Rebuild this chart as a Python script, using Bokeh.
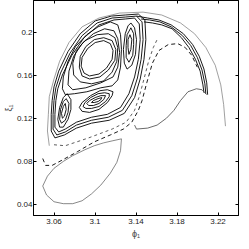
from bokeh.plotting import figure
from bokeh.models import (LinearAxis, FixedTicker, Range1d, CustomJSTickFormatter,
                          CustomLabelingPolicy)
from bokeh.embed import file_html
from bokeh.resources import INLINE

x_ticks = [3.06, 3.1, 3.14, 3.18, 3.22]
y_ticks = [0.04, 0.08, 0.12, 0.16, 0.2]
x_label = "ϕ₁"
y_label = "ξ₁"

# ---- central island rings (closed) ----
big_r1_x = [3.1149, 3.1176, 3.1167, 3.1112, 3.1039, 3.0947, 3.0893, 3.0865, 3.0874, 3.0929, 3.1002, 3.1085]
big_r1_y = [0.1899, 0.1835, 0.1753, 0.1671, 0.1616, 0.1598, 0.1625, 0.1689, 0.1771, 0.1854, 0.1909, 0.1927]
big_r2_x = [3.1167, 3.1203, 3.1194, 3.1130, 3.1048, 3.0947, 3.0874, 3.0847, 3.0856, 3.0911, 3.0993, 3.1085]
big_r2_y = [0.1927, 0.1845, 0.1744, 0.1653, 0.1589, 0.1570, 0.1598, 0.1680, 0.1781, 0.1872, 0.1936, 0.1954]
big_r3_x = [3.1194, 3.1222, 3.1213, 3.1167, 3.1085, 3.0966, 3.0856, 3.0792, 3.0783, 3.0819, 3.0902, 3.1021, 3.1130]
big_r3_y = [0.1954, 0.1863, 0.1735, 0.1634, 0.1552, 0.1525, 0.1543, 0.1607, 0.1717, 0.1835, 0.1927, 0.1982, 0.1991]
big_r4_x = [3.1185, 3.1222, 3.1240, 3.1222, 3.1176, 3.1057, 3.0911, 3.0783, 3.0737, 3.0746, 3.0792, 3.0874, 3.0984, 3.1094]
big_r4_y = [0.2018, 0.1945, 0.1817, 0.1680, 0.1589, 0.1534, 0.1488, 0.1470, 0.1515, 0.1643, 0.1781, 0.1899, 0.1991, 0.2037]
big_r5_x = [3.1149, 3.1222, 3.1249, 3.1258, 3.1249, 3.1222, 3.1167, 3.1057, 3.0920, 3.0801, 3.0710, 3.0682, 3.0691, 3.0737, 3.0810, 3.0920, 3.1030]
big_r5_y = [0.2101, 0.2073, 0.1982, 0.1845, 0.1680, 0.1561, 0.1506, 0.1488, 0.1451, 0.1433, 0.1424, 0.1479, 0.1589, 0.1735, 0.1872, 0.1982, 0.2055]

# ---- lower satellite island ----
low_r4_x = [3.1176, 3.1121, 3.1048, 3.0957, 3.0874, 3.0847, 3.0874, 3.0947, 3.1039, 3.1121, 3.1167]
low_r4_y = [0.1451, 0.1470, 0.1461, 0.1415, 0.1351, 0.1305, 0.1269, 0.1259, 0.1287, 0.1351, 0.1415]
low_r3_x = [3.1139, 3.1094, 3.1030, 3.0957, 3.0902, 3.0883, 3.0911, 3.0966, 3.1039, 3.1103, 3.1139]
low_r3_y = [0.1433, 0.1442, 0.1433, 0.1397, 0.1351, 0.1314, 0.1296, 0.1296, 0.1314, 0.1360, 0.1406]
low_r2_x = [3.1103, 3.1057, 3.1002, 3.0947, 3.0920, 3.0938, 3.0984, 3.1039, 3.1085]
low_r2_y = [0.1415, 0.1415, 0.1397, 0.1369, 0.1342, 0.1323, 0.1323, 0.1342, 0.1378]
low_r1_x = [3.1066, 3.1030, 3.0984, 3.0966, 3.0993, 3.1030, 3.1057]
low_r1_y = [0.1397, 0.1387, 0.1369, 0.1351, 0.1351, 0.1360, 0.1378]

# ---- left satellite island ----
left_r3_x = [3.0728, 3.0765, 3.0765, 3.0737, 3.0691, 3.0655, 3.0637, 3.0655, 3.0691]
left_r3_y = [0.1433, 0.1378, 0.1287, 0.1195, 0.1122, 0.1122, 0.1195, 0.1305, 0.1397]
left_r2_x = [3.0719, 3.0746, 3.0737, 3.0710, 3.0673, 3.0655, 3.0664, 3.0691]
left_r2_y = [0.1387, 0.1342, 0.1259, 0.1186, 0.1159, 0.1195, 0.1287, 0.1360]
left_r1_x = [3.0710, 3.0719, 3.0701, 3.0682, 3.0673, 3.0691]
left_r1_y = [0.1342, 0.1287, 0.1223, 0.1205, 0.1250, 0.1314]

# ---- right satellite island ----
right_r3_x = [3.1350, 3.1386, 3.1405, 3.1395, 3.1359, 3.1313, 3.1286, 3.1277, 3.1295, 3.1322]
right_r3_y = [0.2091, 0.2046, 0.1936, 0.1799, 0.1698, 0.1662, 0.1717, 0.1845, 0.1991, 0.2064]
right_r2_x = [3.1350, 3.1377, 3.1377, 3.1368, 3.1331, 3.1304, 3.1304, 3.1313]
right_r2_y = [0.2046, 0.1991, 0.1890, 0.1790, 0.1726, 0.1771, 0.1881, 0.1982]
right_r1_x = [3.1341, 3.1359, 3.1350, 3.1331, 3.1322, 3.1322]
right_r1_y = [0.1982, 0.1936, 0.1845, 0.1799, 0.1863, 0.1936]

# ---- enclosing band (closed) ----
band_e0_x = [3.1295, 3.1386, 3.1432, 3.1441, 3.1423, 3.1386, 3.1331, 3.1249, 3.1121, 3.0966, 3.0819, 3.0710, 3.0646, 3.0609, 3.0609, 3.0618, 3.0637, 3.0682, 3.0774, 3.0893, 3.1039, 3.1185]
band_e0_y = [0.2128, 0.2137, 0.2082, 0.1936, 0.1753, 0.1589, 0.1433, 0.1305, 0.1241, 0.1214, 0.1168, 0.1104, 0.1077, 0.1122, 0.1241, 0.1369, 0.1479, 0.1607, 0.1790, 0.1954, 0.2073, 0.2119]
band_e1_x = [3.1295, 3.1405, 3.1459, 3.1469, 3.1450, 3.1414, 3.1359, 3.1267, 3.1130, 3.0966, 3.0819, 3.0710, 3.0627, 3.0591, 3.0591, 3.0600, 3.0618, 3.0664, 3.0755, 3.0874, 3.1021, 3.1167]
band_e1_y = [0.2146, 0.2155, 0.2101, 0.1936, 0.1753, 0.1579, 0.1415, 0.1278, 0.1214, 0.1186, 0.1141, 0.1077, 0.1049, 0.1104, 0.1241, 0.1369, 0.1488, 0.1625, 0.1808, 0.1973, 0.2091, 0.2137]
band_e2_x = [3.1295, 3.1423, 3.1487, 3.1496, 3.1478, 3.1441, 3.1386, 3.1286, 3.1139, 3.0966, 3.0819, 3.0701, 3.0609, 3.0573, 3.0573, 3.0582, 3.0600, 3.0646, 3.0737, 3.0856, 3.1002, 3.1158]
band_e2_y = [0.2165, 0.2174, 0.2119, 0.1936, 0.1753, 0.1570, 0.1397, 0.1250, 0.1186, 0.1159, 0.1113, 0.1049, 0.1022, 0.1086, 0.1241, 0.1369, 0.1497, 0.1643, 0.1826, 0.1991, 0.2110, 0.2155]

# ---- right arch bundle (open) ----
arch_a1_x = [3.1405, 3.1514, 3.1624, 3.1743, 3.1862, 3.1953, 3.2017, 3.2063, 3.2090, 3.2099]
arch_a1_y = [0.2155, 0.2137, 0.2119, 0.2073, 0.1991, 0.1890, 0.1781, 0.1662, 0.1534, 0.1424]
arch_a2_x = [3.1450, 3.1533, 3.1633, 3.1743, 3.1853, 3.1934, 3.1998, 3.2044, 3.2072, 3.2081]
arch_a2_y = [0.2128, 0.2119, 0.2101, 0.2055, 0.1973, 0.1881, 0.1771, 0.1653, 0.1525, 0.1433]
arch_a3_x = [3.1478, 3.1560, 3.1651, 3.1752, 3.1843, 3.1916, 3.1980, 3.2026, 3.2053, 3.2063]
arch_a3_y = [0.2101, 0.2091, 0.2073, 0.2037, 0.1954, 0.1863, 0.1753, 0.1643, 0.1515, 0.1442]

# ---- outermost thin curve ----
outer_x = [3.0554, 3.0536, 3.0545, 3.0554, 3.0600, 3.0655, 3.0746, 3.0874, 3.1039, 3.1240, 3.1469, 3.1651, 3.1834, 3.1971, 3.2081, 3.2173, 3.2227, 3.2255, 3.2273]
outer_y = [0.0949, 0.1086, 0.1241, 0.1406, 0.1570, 0.1735, 0.1909, 0.2055, 0.2137, 0.2183, 0.2192, 0.2165, 0.2091, 0.1991, 0.1863, 0.1698, 0.1515, 0.1333, 0.1131]

# ---- dashed orbits ----
dash_d1_x = [3.0490, 3.0518, 3.0582, 3.0691, 3.0829, 3.0993, 3.1149, 3.1277, 3.1359, 3.1423, 3.1459, 3.1505, 3.1560, 3.1624, 3.1715, 3.1807, 3.1880, 3.1944, 3.1998]
dash_d1_y = [0.0830, 0.0766, 0.0766, 0.0821, 0.0894, 0.0985, 0.1049, 0.1104, 0.1168, 0.1278, 0.1369, 0.1534, 0.1717, 0.1835, 0.1890, 0.1899, 0.1863, 0.1790, 0.1680]
dash_d2_x = [3.0600, 3.0710, 3.0938, 3.1167, 3.1304, 3.1386, 3.1432, 3.1478, 3.1523, 3.1569, 3.1606]
dash_d2_y = [0.0958, 0.0949, 0.1022, 0.1104, 0.1168, 0.1278, 0.1406, 0.1570, 0.1735, 0.1863, 0.1936]

# ---- lower arc and lower loop ----
arc_b_x = [3.1386, 3.1405, 3.1514, 3.1606, 3.1697, 3.1770, 3.1834, 3.1907, 3.1989, 3.2044, 3.2090]
arc_b_y = [0.1141, 0.1104, 0.1113, 0.1141, 0.1205, 0.1278, 0.1369, 0.1451, 0.1479, 0.1470, 0.1424]
loop_x = [3.1258, 3.1167, 3.1085, 3.0993, 3.0902, 3.0783, 3.0691, 3.0600, 3.0536, 3.0490, 3.0527, 3.0600, 3.0691, 3.0783, 3.0874, 3.0966, 3.1057, 3.1149, 3.1213, 3.1249, 3.1258]
loop_y = [0.1013, 0.0994, 0.0976, 0.0949, 0.0912, 0.0857, 0.0803, 0.0739, 0.0666, 0.0574, 0.0491, 0.0428, 0.0410, 0.0410, 0.0437, 0.0501, 0.0583, 0.0693, 0.0794, 0.0903, 0.1013]


def closed(xs, ys):
    return list(xs) + [xs[0]], list(ys) + [ys[0]]


closed_rings = [
    (big_r1_x, big_r1_y), (big_r2_x, big_r2_y), (big_r3_x, big_r3_y),
    (big_r4_x, big_r4_y), (big_r5_x, big_r5_y),
    (low_r1_x, low_r1_y), (low_r2_x, low_r2_y), (low_r3_x, low_r3_y), (low_r4_x, low_r4_y),
    (left_r1_x, left_r1_y), (left_r2_x, left_r2_y), (left_r3_x, left_r3_y),
    (right_r1_x, right_r1_y), (right_r2_x, right_r2_y), (right_r3_x, right_r3_y),
    (band_e0_x, band_e0_y), (band_e1_x, band_e1_y), (band_e2_x, band_e2_y),
]
open_curves = [(arch_a1_x, arch_a1_y), (arch_a2_x, arch_a2_y), (arch_a3_x, arch_a3_y)]

p = figure(width=241, height=241, output_backend="svg", toolbar_location=None,
           x_range=Range1d(3.04, 3.24), y_range=Range1d(0.03, 0.23),
           min_border_left=0, min_border_right=3, min_border_top=0, min_border_bottom=0)
p.background_fill_color = "white"
p.border_fill_color = "white"
p.outline_line_color = "black"
p.outline_line_width = 1
p.grid.visible = False

xs, ys = [], []
for cx, cy in closed_rings:
    a, b = closed(cx, cy)
    xs.append(a); ys.append(b)
for cx, cy in open_curves:
    xs.append(list(cx)); ys.append(list(cy))
p.multi_line(xs, ys, line_color="black", line_width=0.9)

p.line(outer_x, outer_y, line_color="#777777", line_width=0.7)
p.line(loop_x, loop_y, line_color="#555555", line_width=0.7)
p.line(arc_b_x, arc_b_y, line_color="#444444", line_width=0.8)
p.line(dash_d1_x, dash_d1_y, line_color="black", line_width=0.9, line_dash="4 3")
p.line(dash_d2_x, dash_d2_y, line_color="#333333", line_width=0.8, line_dash="3 3")

fmt = CustomJSTickFormatter(code="return String(Math.round(tick*100)/100);")
font = "Liberation Sans"

for ax in p.xaxis + p.yaxis:
    ax.major_tick_in = 3
    ax.major_tick_out = 0
    ax.minor_tick_in = 0
    ax.minor_tick_out = 0
    ax.axis_line_color = "black"
    ax.major_label_text_font = font
    ax.major_label_text_font_size = "8px"
    ax.major_label_text_color = "#222222"
    ax.axis_label_text_font = font
    ax.axis_label_text_font_size = "9px"
    ax.axis_label_text_font_style = "normal"
    ax.formatter = fmt

p.xaxis.major_label_standoff = 3
p.xaxis.axis_label_standoff = 2
p.yaxis.major_label_standoff = 1
p.yaxis.axis_label_standoff = 0

p.xaxis.ticker = FixedTicker(ticks=x_ticks)
p.yaxis.ticker = FixedTicker(ticks=y_ticks)
p.xaxis.axis_label = x_label
p.yaxis.axis_label = y_label

hide_labels = CustomLabelingPolicy(code="""
try { for (const i of Array.from(indices)) indices.unset(i); } catch (e) {}
return indices;
""")
blank = CustomJSTickFormatter(code="return '';")

top = LinearAxis(ticker=FixedTicker(ticks=x_ticks), formatter=blank,
                 major_label_policy=hide_labels, major_label_text_font_size="0px",
                 major_tick_in=3, major_tick_out=0, minor_tick_in=0, minor_tick_out=0,
                 major_label_standoff=0)
right = LinearAxis(ticker=FixedTicker(ticks=y_ticks), formatter=blank,
                   major_label_policy=hide_labels, major_label_text_font_size="0px",
                   major_tick_in=3, major_tick_out=0, minor_tick_in=0, minor_tick_out=0,
                   major_label_standoff=0)
p.add_layout(top, "above")
p.add_layout(right, "right")

open("out.html", "w").write(file_html(p, INLINE))
